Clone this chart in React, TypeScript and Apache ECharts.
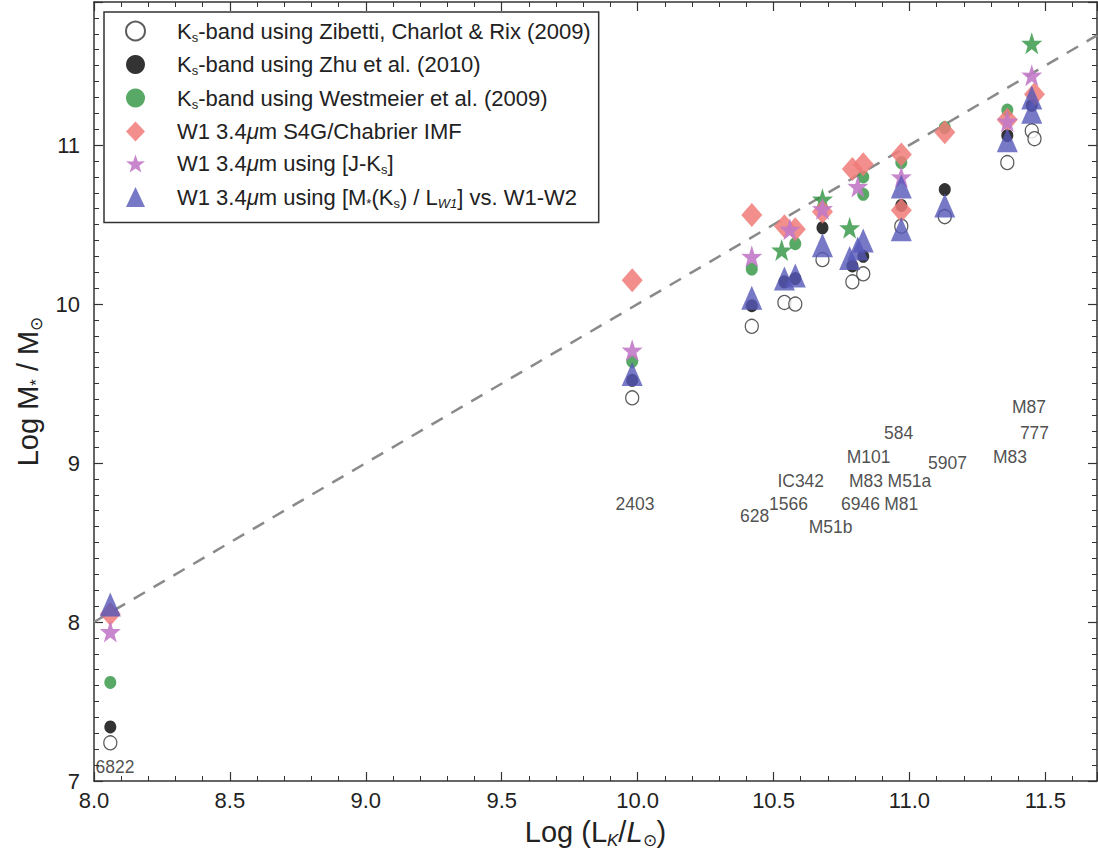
import React, { useEffect, useRef } from "react";
import * as echarts from "echarts";

// ---- data ----
const zibetti: number[][] = [
  [8.06, 7.24], [9.98, 9.41], [10.42, 9.86], [10.54, 10.01], [10.58, 10.0], [10.68, 10.28],
  [10.79, 10.14], [10.83, 10.19], [10.97, 10.49], [11.13, 10.55], [11.36, 10.89], [11.45, 11.09], [11.46, 11.04],
];
const zhu: number[][] = [
  [8.06, 7.34], [9.98, 9.52], [10.42, 9.99], [10.54, 10.14], [10.58, 10.16], [10.68, 10.48],
  [10.79, 10.24], [10.83, 10.3], [10.97, 10.62], [11.13, 10.72], [11.36, 11.06], [11.45, 11.25],
];
const westmeier: number[][] = [
  [8.06, 7.62], [9.98, 9.64], [10.42, 10.22], [10.53, 10.34], [10.58, 10.38], [10.68, 10.66],
  [10.78, 10.48], [10.83, 10.69], [10.83, 10.8], [10.97, 10.89], [11.13, 11.11], [11.36, 11.22], [11.45, 11.64],
];
const westmeierStarIdx = [3, 5, 6, 12];
const s4g: number[][] = [
  [8.06, 8.05], [9.98, 10.15], [10.42, 10.56], [10.54, 10.49], [10.58, 10.47], [10.68, 10.58],
  [10.79, 10.85], [10.83, 10.88], [10.97, 10.94], [10.97, 10.59], [11.13, 11.08], [11.36, 11.16], [11.46, 11.32],
];
const jk: number[][] = [
  [8.06, 7.94], [9.98, 9.71], [10.42, 10.3], [10.56, 10.47], [10.68, 10.6], [10.81, 10.74],
  [10.97, 10.8], [11.36, 11.15], [11.45, 11.44],
];
const mlw1: number[][] = [
  [8.06, 8.11], [9.98, 9.56], [10.42, 10.04], [10.54, 10.16], [10.58, 10.18], [10.68, 10.37],
  [10.78, 10.29], [10.81, 10.35], [10.83, 10.4], [10.97, 10.74], [10.97, 10.47], [11.13, 10.62],
  [11.36, 11.03], [11.45, 11.21], [11.45, 11.3],
];
const oneToOne: number[][] = [[8.0, 8.0], [11.69, 11.69]];

const galaxyNames = ["6822", "2403", "628", "1566", "IC342", "M51b", "6946", "M83", "M101", "M51a", "M81", "584", "5907", "M83", "777", "M87"];
const galaxyX = [8.077, 9.99, 10.43, 10.555, 10.6, 10.71, 10.82, 10.84, 10.85, 11.0, 10.97, 10.96, 11.14, 11.37, 11.46, 11.44];
const galaxyY = [7.09, 8.74, 8.67, 8.74, 8.89, 8.6, 8.74, 8.89, 9.04, 8.89, 8.74, 9.19, 9.0, 9.04, 9.19, 9.35];

const xTicks = { min: 8, max: 11.69, interval: 0.5 };
const yTicks = { min: 7, max: 11.9, interval: 1 };

const seriesNames = [
  "Ks-band using Zibetti, Charlot & Rix (2009)",
  "Ks-band using Zhu et al. (2010)",
  "Ks-band using Westmeier et al. (2009)",
  "W1 3.4μm S4G/Chabrier IMF",
  "W1 3.4μm using [J-Ks]",
  "W1 3.4μm using [M*(Ks) / LW1] vs. W1-W2",
];
const legendRich = [
  "{g|}{t|K}{s|s}{t|-band using Zibetti, Charlot & Rix (2009)}",
  "{g|}{t|K}{s|s}{t|-band using Zhu et al. (2010)}",
  "{g|}{t|K}{s|s}{t|-band using Westmeier et al. (2009)}",
  "{g|}{t|W1 3.4}{i|μ}{t|m S4G/Chabrier IMF}",
  "{g|}{t|W1 3.4}{i|μ}{t|m using [J-K}{s|s}{t|]}",
  "{g|}{t|W1 3.4}{i|μ}{t|m using [M}{s|*}{t|(K}{s|s}{t|) / L}{si|W1}{t|] vs. W1-W2}",
];

const FONT = "'Liberation Sans', Arial, Helvetica, sans-serif";
const STAR = "path://M50,0 L61.8,35.1 L97.6,34.5 L69.1,56.9 L79.4,90.5 L50,70 L20.6,90.5 L30.9,56.9 L2.4,34.5 L38.2,35.1 Z";

export default function App() {
  const ref = useRef<HTMLDivElement>(null);
  useEffect(() => {
    if (!ref.current) return;
    const chart = echarts.init(ref.current, undefined, { renderer: "svg" });
    const axisCommon = {
      type: "value" as const,
      axisLine: { show: true, onZero: false, lineStyle: { color: "#333", width: 1.5 } },
      axisTick: { show: true, inside: true, length: 9, lineStyle: { color: "#333", width: 1.2 } },
      minorTick: { show: true, length: 5, lineStyle: { color: "#333", width: 1 } },
      splitLine: { show: false },
    };
    const legendMap: Record<string, string> = {};
    seriesNames.forEach((n, i) => (legendMap[n] = legendRich[i]));
    const LH = 25;
    const subStyle = { fontSize: 13, fontFamily: FONT, color: "#222", verticalAlign: "bottom" as const, lineHeight: LH };
    const nameT = { fontSize: 29, fontFamily: FONT, color: "#222", lineHeight: 34 };
    const nameS = { fontSize: 17, fontFamily: FONT, color: "#222", verticalAlign: "bottom" as const, lineHeight: 34 };
    chart.setOption({
      animation: false,
      backgroundColor: "#fff",
      grid: { left: 94, right: 1, top: 2, bottom: 75, show: false },
      legend: {
        data: seriesNames,
        orient: "vertical",
        left: 104,
        top: 12,
        padding: [8, 8, 13, 21],
        itemGap: 10,
        itemWidth: 19,
        itemHeight: 20,
        borderColor: "#333",
        borderWidth: 1.5,
        backgroundColor: "#fff",
        selectedMode: false,
        formatter: (n: string) => legendMap[n] || n,
        textStyle: {
          fontFamily: FONT,
          fontSize: 22,
          color: "#222",
          rich: {
            g: { width: 27 },
            t: { fontSize: 22, fontFamily: FONT, color: "#222", lineHeight: LH },
            i: { fontSize: 22, fontFamily: FONT, color: "#222", fontStyle: "italic", lineHeight: LH },
            s: subStyle,
            si: { ...subStyle, fontStyle: "italic" },
          },
        },
        z: 20,
      },
      xAxis: [
        {
          ...axisCommon,
          ...xTicks,
          position: "bottom",
          minorTick: { ...axisCommon.minorTick, splitNumber: 5 },
          axisLabel: {
            show: true,
            margin: 8,
            fontSize: 22,
            fontFamily: FONT,
            color: "#222",
            showMaxLabel: false,
            formatter: (v: number) => v.toFixed(1),
          },
          name: "{t|Log (L}{si|K}{t|/}{ti|L}{s|⊙}{t|)}",
          nameLocation: "middle",
          nameGap: 34,
          nameTextStyle: {
            rich: {
              t: nameT,
              ti: { ...nameT, fontStyle: "italic" },
              s: nameS,
              si: { ...nameS, fontStyle: "italic" },
            },
          },
        },
        {
          ...axisCommon,
          ...xTicks,
          position: "top",
          minorTick: { ...axisCommon.minorTick, splitNumber: 5 },
          axisLabel: { show: false },
        },
      ],
      yAxis: [
        {
          ...axisCommon,
          ...yTicks,
          position: "left",
          minorTick: { ...axisCommon.minorTick, splitNumber: 10 },
          axisLabel: {
            show: true,
            margin: 14,
            fontSize: 22,
            fontFamily: FONT,
            color: "#222",
            showMaxLabel: false,
          },
          name: "{t|Log M}{s|*}{t| / M}{s|⊙}",
          nameLocation: "middle",
          nameRotate: 90,
          nameGap: 46,
          nameTextStyle: {
            rich: { t: nameT, s: nameS },
          },
        },
        {
          ...axisCommon,
          ...yTicks,
          position: "right",
          minorTick: { ...axisCommon.minorTick, splitNumber: 10 },
          axisLabel: { show: false },
        },
      ],
      series: [
        {
          type: "line",
          name: "one-to-one",
          data: oneToOne,
          symbol: "none",
          z: 1,
          lineStyle: { color: "#8a8a8a", width: 2.5, type: [13, 10] },
          silent: true,
        },
        {
          type: "scatter",
          name: seriesNames[0],
          data: zibetti,
          symbol: "circle",
          symbolSize: [13, 14],
          z: 2,
          itemStyle: { color: "#fff", borderColor: "#333", borderWidth: 1.3 },
        },
        {
          type: "scatter",
          name: seriesNames[1],
          data: zhu,
          symbol: "circle",
          symbolSize: [12, 13],
          z: 3,
          itemStyle: { color: "#000" },
        },
        {
          type: "scatter",
          name: seriesNames[2],
          symbol: "circle",
          data: westmeier.map((p, i) =>
            westmeierStarIdx.includes(i) ? { value: p, symbol: STAR, symbolSize: [21, 22] } : { value: p }
          ),
          symbolSize: [12, 13],
          z: 4,
          itemStyle: { color: "#2e9440" },
        },
        {
          type: "scatter",
          name: seriesNames[3],
          data: s4g,
          symbol: "diamond",
          symbolSize: [21, 24],
          z: 5,
          itemStyle: { color: "#f07a78", opacity: 0.85 },
        },
        {
          type: "scatter",
          name: seriesNames[4],
          data: jk,
          symbol: STAR,
          symbolSize: [21, 22],
          z: 6,
          itemStyle: { color: "#c27ac8", opacity: 0.9 },
        },
        {
          type: "scatter",
          name: seriesNames[5],
          data: mlw1,
          symbol: "triangle",
          symbolSize: [21, 24],
          z: 7,
          itemStyle: { color: "#5558b8", opacity: 0.8 },
        },
        {
          type: "scatter",
          name: "galaxy labels",
          data: galaxyNames.map((n, i) => ({ name: n, value: [galaxyX[i], galaxyY[i]] })),
          symbolSize: 1,
          z: 8,
          silent: true,
          itemStyle: { color: "rgba(0,0,0,0)" },
          label: {
            show: true,
            position: "inside",
            formatter: (p: any) => p.name,
            fontSize: 17.5,
            fontFamily: FONT,
            color: "#222",
          },
        },
      ],
    });
    return () => chart.dispose();
  }, []);
  return (
    <div
      ref={ref}
      style={{ position: "fixed", left: 0, top: 0, width: 1098, height: 856, background: "#fff" }}
    />
  );
}
